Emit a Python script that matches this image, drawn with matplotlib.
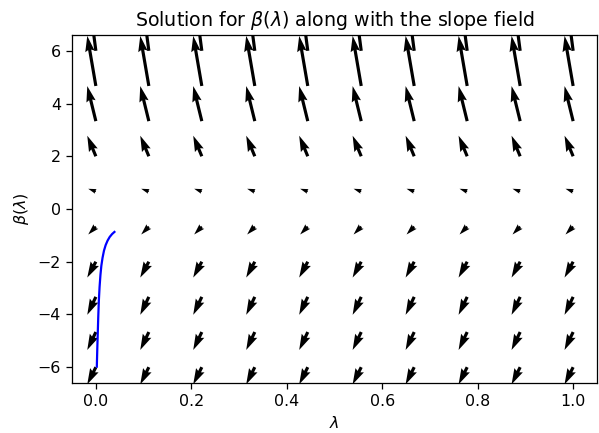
import numpy as np
import matplotlib.pyplot as plt

# grid of the slope field
lam_grid = [0.0, 0.111, 0.222, 0.333, 0.444, 0.556, 0.667, 0.778, 0.889, 1.0]
beta_grid = [-6.0, -4.667, -3.333, -2.0, -0.667, 0.667, 2.0, 3.333, 4.667, 6.0]

# arrow components per row (same order as beta_grid)
u_rows = [-0.018, -0.018, -0.018, -0.018, -0.016, -0.016, -0.018, -0.018, -0.018, -0.018]
v_rows = [-0.65, -0.68, -0.68, -0.60, -0.30, 0.10, 0.78, 1.33, 1.90, 2.50]

# solution curve
sol_lam = [0.0020, 0.0030, 0.0040, 0.0050, 0.0062, 0.0078, 0.0096, 0.0115,
           0.0140, 0.0170, 0.0205, 0.0245, 0.0290, 0.0340, 0.0389]
sol_beta = [-5.98, -5.30, -4.70, -4.10, -3.50, -2.95, -2.50, -2.15,
            -1.85, -1.58, -1.37, -1.20, -1.06, -0.95, -0.87]

L, B = np.meshgrid(lam_grid, beta_grid)
U = np.repeat(np.array(u_rows)[:, None], len(lam_grid), axis=1)
V = np.repeat(np.array(v_rows)[:, None], len(lam_grid), axis=1)

dpi = 114
fig = plt.figure(figsize=(599 / dpi, 433 / dpi), dpi=dpi)
ax = fig.add_axes([72 / 599, 50 / 433, 525 / 599, 348 / 433])
ax.quiver(L, B, U, V, angles='xy', scale_units='xy', scale=1)
ax.plot(sol_lam, sol_beta, color='blue', linewidth=1.4)

ax.set_xlim(-0.05, 1.05)
ax.set_ylim(-6.6, 6.6)
ax.set_xlabel(r'$\lambda$')
ax.set_ylabel(r'$\beta(\lambda)$')
ax.set_title(r'Solution for $\beta(\lambda)$ along with the slope field')

fig.savefig('out.png', dpi=dpi)
